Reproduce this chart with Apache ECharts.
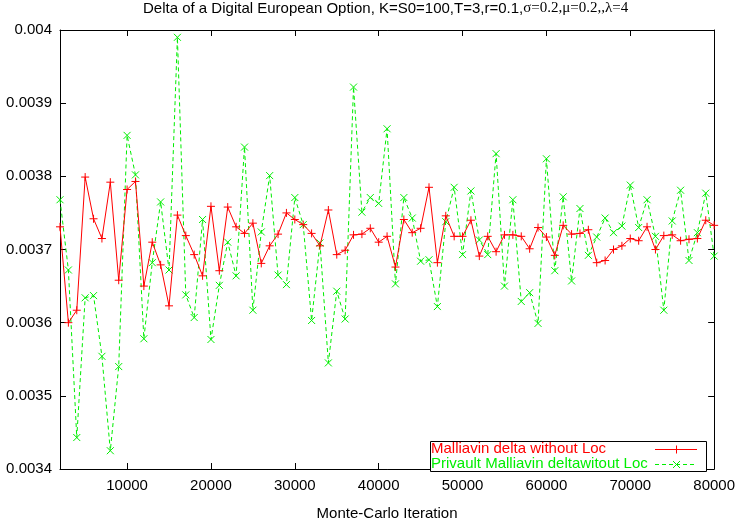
<!DOCTYPE html>
<html>
<head>
<meta charset="utf-8">
<script src="https://cdn.jsdelivr.net/npm/echarts@6/dist/echarts.min.js"></script>
<style>
html,body{margin:0;padding:0;background:#fff;}
#chart{width:738px;height:526px;}
</style>
</head>
<body>
<div id="chart"></div>
<script>
// Monte-Carlo iteration counts (x values)
var iterations = [
  2000,3000,4000,5000,6000,7000,8000,9000,10000,11000,12000,13000,14000,15000,16000,17000,18000,19000,20000,
  21000,22000,23000,24000,25000,26000,27000,28000,29000,30000,31000,32000,33000,34000,35000,36000,37000,38000,39000,40000,
  41000,42000,43000,44000,45000,46000,47000,48000,49000,50000,51000,52000,53000,54000,55000,56000,57000,58000,59000,60000,
  61000,62000,63000,64000,65000,66000,67000,68000,69000,70000,71000,72000,73000,74000,75000,76000,77000,78000,79000,80000
];
// Malliavin delta without Loc
var malliavin = [
  0.003731,0.003600,0.003617,0.003799,0.003742,0.003715,0.003792,0.003658,0.003782,0.003793,0.003650,0.003710,0.003679,0.003623,0.003747,0.003719,0.003693,0.003664,0.003759,
  0.003671,0.003758,0.003731,0.003722,0.003736,0.003681,0.003705,0.003721,0.003750,0.003741,0.003734,0.003722,0.003705,0.003754,0.003693,0.003699,0.003720,0.003721,0.003729,0.003710,
  0.003718,0.003676,0.003741,0.003723,0.003729,0.003785,0.003682,0.003746,0.003718,0.003718,0.003740,0.003691,0.003718,0.003697,0.003720,0.003720,0.003718,0.003701,0.003730,0.003717,
  0.003692,0.003733,0.003721,0.003722,0.003727,0.003682,0.003685,0.003700,0.003705,0.003715,0.003712,0.003731,0.003700,0.003719,0.003720,0.003712,0.003714,0.003715,0.003740,0.003733
];
// Privault Malliavin delta witout Loc
var privault = [
  0.003768,0.003672,0.003443,0.003634,0.003637,0.003554,0.003425,0.003540,0.003856,0.003802,0.003578,0.003682,0.003765,0.003672,0.003990,0.003638,0.003607,0.003741,0.003577,
  0.003651,0.003710,0.003664,0.003840,0.003617,0.003724,0.003801,0.003665,0.003652,0.003771,0.003734,0.003603,0.003709,0.003545,0.003643,0.003605,0.003922,0.003751,0.003771,0.003763,
  0.003865,0.003653,0.003771,0.003743,0.003684,0.003686,0.003622,0.003738,0.003785,0.003693,0.003780,0.003713,0.003693,0.003831,0.003650,0.003768,0.003629,0.003641,0.003599,0.003824,
  0.003671,0.003772,0.003657,0.003756,0.003692,0.003717,0.003743,0.003723,0.003732,0.003788,0.003730,0.003768,0.003718,0.003617,0.003739,0.003781,0.003685,0.003723,0.003777,0.003691
];
var xTicks = [10000,20000,30000,40000,50000,60000,70000,80000];
var titleMain = 'Delta of a Digital European Option, K=S0=100,T=3,r=0.1,';
var titleGreek = 'σ=0.2,μ=0.2,,λ=4';
var xName = 'Monte-Carlo Iteration';
var seriesNames = ['Malliavin delta without Loc', 'Privault Malliavin deltawitout Loc'];

var FONT = '"Liberation Sans", Arial, sans-serif';
var RED = '#ff0000', GREEN = '#00ee00';

function pairs(ys){ return iterations.map(function(x,i){ return [x, ys[i]]; }); }

var chart = echarts.init(document.getElementById('chart'), null, {renderer:'canvas'});
var axisLineStyle = {color:'#000', width:1};
var option = {
  backgroundColor:'#fff',
  animation:false,
  title:{
    text:'{a|' + titleMain + '}{b|' + titleGreek + '}',
    left:143, top:1, padding:0,
    textStyle:{
      fontWeight:'normal',
      rich:{
        a:{fontFamily:FONT, fontSize:15, fontWeight:'normal', color:'#000'},
        b:{fontFamily:'"Liberation Serif", "Times New Roman", serif', fontSize:15, fontWeight:'normal', color:'#000'}
      }
    }
  },
  grid:{left:60, right:23, top:30, bottom:48, containLabel:false},
  xAxis:[{
    type:'value', min:2000, max:80000,
    name:xName, nameLocation:'middle', nameGap:37,
    nameTextStyle:{fontFamily:FONT, fontSize:15, color:'#000'},
    axisLine:{show:true, lineStyle:axisLineStyle},
    axisTick:{show:true, inside:true, length:6, lineStyle:axisLineStyle, customValues:xTicks},
    axisLabel:{show:true, fontFamily:FONT, fontSize:15, color:'#000', margin:9, customValues:xTicks,
      formatter:function(v){ return String(v); }},
    splitLine:{show:false}
  },{
    type:'value', min:2000, max:80000, position:'top',
    axisLine:{show:true, lineStyle:axisLineStyle},
    axisTick:{show:true, inside:true, length:6, lineStyle:axisLineStyle, customValues:xTicks},
    axisLabel:{show:false},
    splitLine:{show:false}
  }],
  yAxis:[{
    type:'value', min:0.0034, max:0.004, interval:0.0001,
    axisLine:{show:true, lineStyle:axisLineStyle},
    axisTick:{show:true, inside:true, length:6, lineStyle:axisLineStyle},
    axisLabel:{show:true, fontFamily:FONT, fontSize:15, color:'#000', margin:8,
      formatter:function(v){ return String(parseFloat(v.toFixed(4))); }},
    splitLine:{show:false}
  },{
    type:'value', min:0.0034, max:0.004, interval:0.0001, position:'right',
    axisLine:{show:true, lineStyle:axisLineStyle},
    axisTick:{show:true, inside:true, length:6, lineStyle:axisLineStyle},
    axisLabel:{show:false},
    splitLine:{show:false}
  }],
  series:[{
    name:seriesNames[0], type:'line', data:pairs(malliavin),
    xAxisIndex:0, yAxisIndex:0, z:3,
    showSymbol:true, symbol:'path://M0,5L10,5M5,0L5,10', symbolSize:8,
    itemStyle:{color:RED, borderColor:RED, borderWidth:1},
    lineStyle:{color:RED, width:1}
  },{
    name:seriesNames[1], type:'line', data:pairs(privault),
    xAxisIndex:0, yAxisIndex:0, z:2,
    showSymbol:true, symbol:'path://M0,0L10,10M10,0L0,10', symbolSize:7,
    itemStyle:{color:GREEN, borderColor:GREEN, borderWidth:1},
    lineStyle:{color:GREEN, width:1, type:[4,3]}
  }],
  graphic:[
    {type:'rect', shape:{x:430.5, y:441.5, width:276, height:30}, style:{fill:'#fff', stroke:'#000', lineWidth:1}, z:10},
    {type:'text', x:431, y:449, style:{text:seriesNames[0], fill:RED, font:'15px ' + FONT, textVerticalAlign:'middle'}, z:11},
    {type:'text', x:431, y:464, style:{text:seriesNames[1], fill:GREEN, font:'15px ' + FONT, textVerticalAlign:'middle'}, z:11},
    {type:'line', shape:{x1:655, y1:449.5, x2:697, y2:449.5}, style:{stroke:RED, lineWidth:1}, z:11},
    {type:'line', shape:{x1:676.5, y1:445.5, x2:676.5, y2:453.5}, style:{stroke:RED, lineWidth:1}, z:11},
    {type:'line', shape:{x1:655, y1:464.5, x2:697, y2:464.5}, style:{stroke:GREEN, lineWidth:1, lineDash:[4,3]}, z:11},
    {type:'line', shape:{x1:673, y1:461, x2:680, y2:468}, style:{stroke:GREEN, lineWidth:1}, z:11},
    {type:'line', shape:{x1:680, y1:461, x2:673, y2:468}, style:{stroke:GREEN, lineWidth:1}, z:11}
  ]
};
chart.setOption(option);
</script>
</body>
</html>
